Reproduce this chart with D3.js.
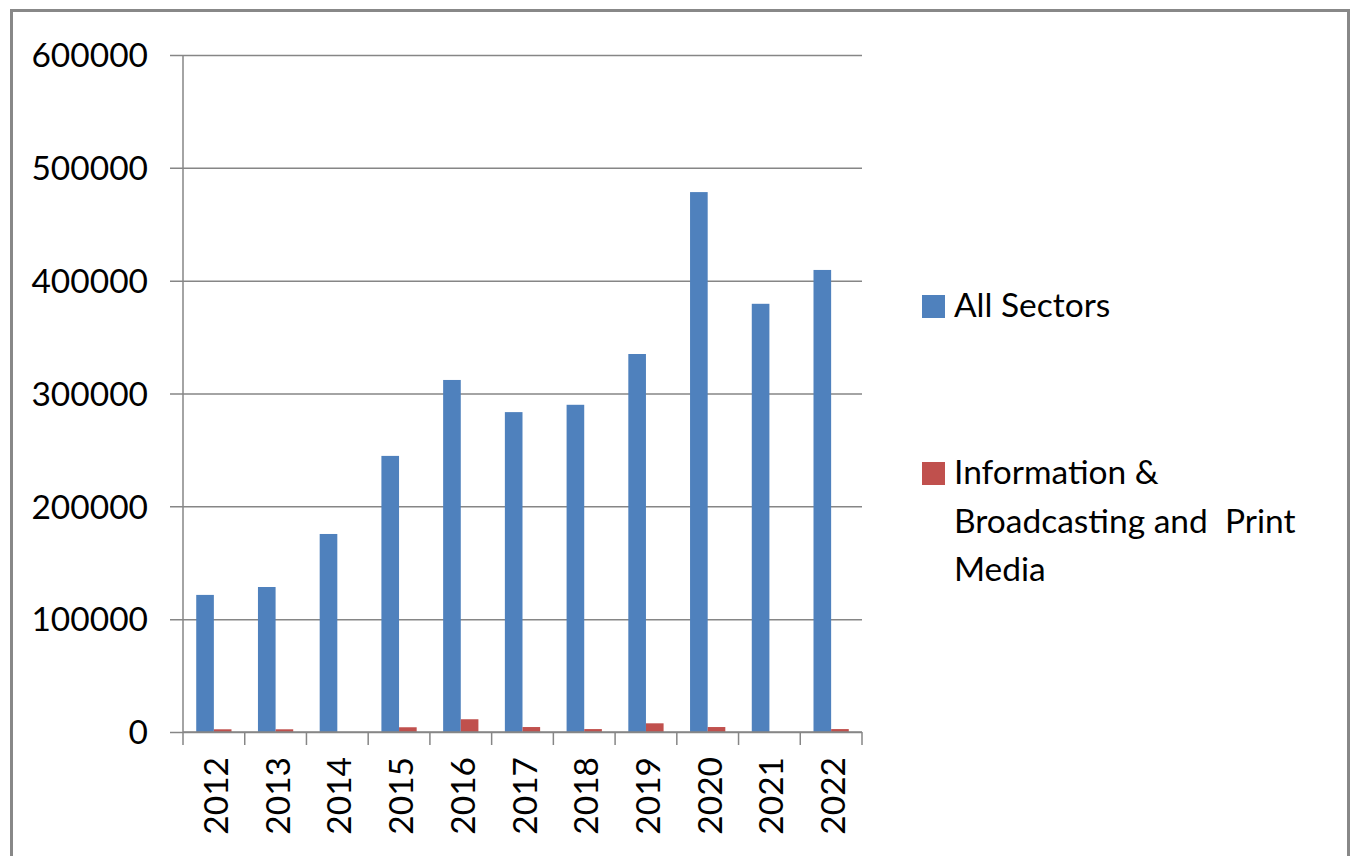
<html>
<head>
    <script src="https://d3js.org/d3.v7.min.js"></script>
    <style>
      body { margin: 0; background: #fff; }
      text { font-family: Lato, "Open Sans", sans-serif; fill: #000; }
    </style>
</head>
<body>
<svg width=1353 height=856></svg>
<script>
// values
const years = ['2012','2013','2014','2015','2016','2017','2018','2019','2020','2021','2022'];
const allSectors = [121500, 128500, 175500, 244700, 312000, 283500, 290000, 335000, 478500, 379500, 409500];
const infoBroadcast = [2400, 2400, 0, 4200, 11300, 4400, 2600, 7700, 4400, 0, 2600];
const yTicks = [0, 100000, 200000, 300000, 400000, 500000, 600000];
const seriesNames = ['All Sectors', 'Information & Broadcasting and  Print Media'];
const seriesColors = ['#4f81bd', '#c0504d'];

const fontSize = '33.5px';
let svg = d3.select('svg');

// outer frame
svg.append('rect')
  .attr('x', 11.5).attr('y', 10.5)
  .attr('width', 1337).attr('height', 870)
  .attr('fill', 'none')
  .attr('stroke', '#888').attr('stroke-width', 3);

let pLeft = 183, pRight = 862, pTop = 55, pBottom = 732;

let x = d3.scaleBand().domain(years).range([pLeft, pRight]);
let y = d3.scaleLinear().domain([0, 600000]).range([pBottom, pTop]);

// gridlines + y ticks
svg.append('g')
  .attr('transform', `translate(${pLeft},0)`)
  .call(d3.axisLeft(y).tickValues(yTicks).tickSize(13).tickFormat(d3.format('d')))
  .call(g => g.select('.domain').remove())
  .call(g => g.selectAll('line').attr('stroke', '#868686').attr('stroke-width', 1.5)
      .attr('x2', -13).attr('x1', pRight - pLeft))
  .call(g => g.selectAll('text').attr('x', -35).attr('dy', '0.35em')
      .style('font-size', fontSize).style('font-family', 'Lato, sans-serif'));

// y axis line
svg.append('line')
  .attr('x1', pLeft).attr('x2', pLeft).attr('y1', pTop).attr('y2', pBottom)
  .attr('stroke', '#868686').attr('stroke-width', 1.5);

// bars
let barW = x.bandwidth() / 3.5;
let gap = x.bandwidth() * 0.75 / 3.5;
[allSectors, infoBroadcast].forEach((vals, s) => {
  svg.append('g')
    .selectAll('rect')
    .data(vals)
    .join('rect')
    .attr('x', (d, i) => x(years[i]) + gap + s * barW)
    .attr('y', d => y(d))
    .attr('width', barW)
    .attr('height', d => pBottom - y(d))
    .attr('fill', seriesColors[s]);
});

// x axis line
svg.append('line')
  .attr('x1', pLeft).attr('x2', pRight).attr('y1', pBottom).attr('y2', pBottom)
  .attr('stroke', '#868686').attr('stroke-width', 1.5);

// category boundary ticks
let bounds = years.map(d => x(d)).concat([pRight]);
svg.append('g')
  .selectAll('line')
  .data(bounds)
  .join('line')
  .attr('x1', d => d).attr('x2', d => d)
  .attr('y1', pBottom).attr('y2', pBottom + 13)
  .attr('stroke', '#868686').attr('stroke-width', 1.5);

// year labels, rotated
svg.append('g')
  .selectAll('text')
  .data(years)
  .join('text')
  .attr('transform', d => `translate(${x(d) + x.bandwidth() / 2 + 14},${pBottom + 25}) rotate(-90)`)
  .attr('text-anchor', 'end')
  .style('font-size', fontSize)
  .text(d => d);

// legend
let legend = svg.append('g');
legend.append('rect').attr('x', 922).attr('y', 295).attr('width', 23).attr('height', 23).attr('fill', seriesColors[0]);
legend.append('text').attr('x', 954).attr('y', 317).style('font-size', fontSize).text(seriesNames[0]);

legend.append('rect').attr('x', 922).attr('y', 462).attr('width', 23).attr('height', 23).attr('fill', seriesColors[1]);
let t = legend.append('text').attr('x', 954).attr('y', 484).style('font-size', fontSize)
  .style('white-space', 'pre');
['Information &', 'Broadcasting and  Print', 'Media'].forEach((line, i) => {
  t.append('tspan').attr('x', 954).attr('dy', i ? 48.5 : 0).text(line);
});
</script>
</body>
</html>
